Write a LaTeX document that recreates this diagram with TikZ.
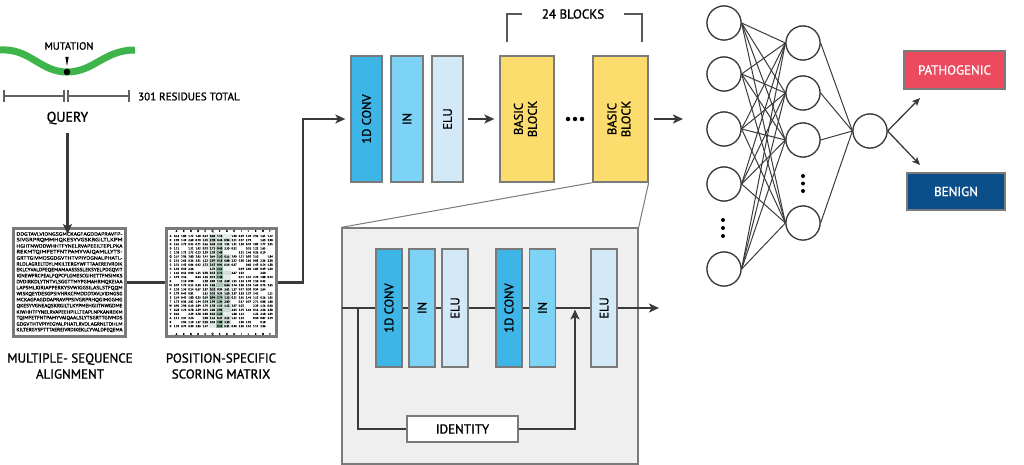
\documentclass[tikz,border=0pt]{standalone}
\usepackage{fontspec}
\setmainfont{PT Sans}[RawFeature={embolden=1.3}]
\usetikzlibrary{arrows.meta,calc}
\definecolor{convc}{HTML}{3DB5E6}
\definecolor{inc}{HTML}{7DD3F5}
\definecolor{eluc}{HTML}{D3E9F7}
\definecolor{bbc}{HTML}{FDDC6E}
\definecolor{edgec}{HTML}{7A7A7A}
\definecolor{linec}{HTML}{3A3A3A}
\definecolor{greenc}{HTML}{3DB54A}
\definecolor{panelc}{HTML}{EEEFEE}
\definecolor{pathc}{HTML}{EC4A5E}
\definecolor{benc}{HTML}{0B4F8A}
\definecolor{pssmc}{HTML}{6F9C84}
\tikzset{
  conn/.style={draw=linec, line width=2.2pt},
  arr/.style={-{Stealth[length=10pt,width=9pt,inset=2.5pt]}},
  sarr/.style={-{Stealth[length=8pt,width=7pt,inset=2pt]}},
  blk/.style={draw=edgec, line width=1.3pt, inner sep=0pt, font=\fontsize{12.5}{14}\selectfont},
  topblk/.style={blk, minimum height=126pt},
  pblk/.style={blk, minimum height=118pt, minimum width=26pt},
  neuron/.style={circle, draw=linec, line width=1.2pt, minimum size=34pt, inner sep=0pt, fill=white},
  nnline/.style={draw=linec, line width=1pt},
  bar/.style={draw=linec!80, line width=1.5pt},
  lbl/.style={font=\fontsize{13}{16}\selectfont, align=center, inner sep=0pt},
  outbox/.style={draw=edgec, line width=1.3pt, text=white, font=\fontsize{13}{15}\selectfont, inner sep=0pt},
  dot/.style={circle, fill=black, inner sep=0pt, minimum size=4.5pt}
}
\begin{document}
\begin{tikzpicture}[x=1pt,y=-1pt]
\useasboundingbox (0,0) rectangle (1024,465);

% ---------------- Query ----------------
\draw[greenc, line width=7pt] (0,50) .. controls (30,48) and (40,72) .. (67,72) .. controls (94,72) and (104,50) .. (135,50);
\fill[black] (67,72) circle (3.3pt);
\fill[black] (65.3,57) -- (68.7,57) -- (67,66) -- cycle;
\node[font=\fontsize{10.5}{12}\selectfont, inner sep=0pt] (mut) at (69,46) {MUTATION};
\coordinate (s0) at (4,96); \coordinate (s1) at (64,96);
\coordinate (s2) at (68,96); \coordinate (s3) at (129,96);
\draw[bar] (s0) -- (s1); \draw[bar] (s2) -- (s3);
\foreach \p in {s0,s1,s2,s3} \draw[bar] ($(\p)+(0,-6)$) -- ($(\p)+(0,6)$);
\node[font=\fontsize{11}{13}\selectfont, anchor=west, inner sep=0pt] (tot) at (138,96.5) {301 RESIDUES TOTAL};
\node[font=\fontsize{14}{16}\selectfont, inner sep=0pt] (query) at (67.5,118) {QUERY};

% ---------------- MSA ----------------
\node[draw=edgec, line width=3pt, fill=white, minimum width=112pt, minimum height=108pt, inner sep=0pt] (msa) at (69.5,282.5) {};
\foreach \l [count=\i] in {DDGTAVLVIDNGSGMCKAGFAGDDAPRAVFP-,SIVGRPRQMMHQKESYVGSKRGILTLKPM,HGIITNWDDWHHTFYNELRVAPEEILTEPLPKA,REKMTQIMFETFNTPAMYVAIQAMLLYTS-,GRTTGIVMDSGDGVTHTVPIYDGNALPHATL-,RLDLAGRELTDYLMKILTERGYWFTTAAEREIVRDIK,EKLCYVALDFEQEMAMAASSSSLEKSYELPDGQVIT,IGNEWFRCPEALFQPCFLGMESCGIHETTFNSIMKS,DVDIRKDLYTNTVLSGGTTMYPGMAHRMQKEIAA,LAPSMLKIRIAPPERKYSVWIGGSILASLSTFQQM,WISKQEYDESGPSIVHRKCFMDDDTAVLVIDNGSG,MCKAGFAGDDAPRAVFPSIVGRPRHQGIMGGMG,QKESYVGNEAQSKRGILTLKYPMEHGIITNWGDME,KIWHHTFYNELRVAPEEHPILLTEAPLNPKANREKM,TQIMFETFNTPAMYVAIQAALSLYTSGRTTGIVMDS,GDGVTHTVPIYEGYALPHATLRVDLAGRNLTDHLM,KILTERGYSFTTTAEREIVRDIKEKLCYVALDFEQEMA}
  \node[inner sep=0pt, font=\fontsize{5}{6}\selectfont] (m\i) at (69.5,{228+6*\i}) {\resizebox{106pt}{3.4pt}{\l}};

% ---------------- PSSM ----------------
\node[draw=edgec, line width=3pt, fill=white, minimum width=110pt, minimum height=108pt, inner sep=0pt] (pssm) at (221.5,282.5) {};
\pgfmathsetseed{7}
\foreach \r in {0,...,22}{
  \foreach \c in {4,5,6,7}{
    \pgfmathrandominteger{\sh}{15}{80}
    \ifnum\c=4 \pgfmathsetmacro{\sh}{int(\sh/4)}\fi
    \ifnum\c=5 \pgfmathsetmacro{\sh}{int(\sh*0.7)}\fi
    \ifnum\c=7 \pgfmathsetmacro{\sh}{int(\sh/2)}\fi
    \fill[pssmc!\sh] ({176.5+7.2*\c-3.6},{236+4.1*\r-2.05}) rectangle ({176.5+7.2*\c+3.6},{236+4.1*\r+2.05});
  }
}
\foreach \r in {0,...,22}{
  \foreach \c in {0,...,13}{
    \pgfmathrandominteger{\ia}{0}{2}
    \pgfmathrandominteger{\ib}{10}{99}
    \pgfmathrandominteger{\sk}{0}{7}
    \ifnum\sk>0
      \node[inner sep=0pt, font=\fontsize{2.8}{3}\selectfont, text=black] (p\r-\c) at ({176.5+7.2*\c},{236+4.1*\r}) {\ia.\ib};
    \fi
  }
}
\foreach \a [count=\i from 0] in {A,R,N,D,C,Q,E,G,H,I,L,K,M,F,P,S,T,W,Y,V,A,R,N}
  \node[inner sep=0pt, font=\fontsize{2.8}{3}\selectfont] (rl\i) at (170.5,{236+4.1*\i}) {\a};
\foreach \a [count=\i from 0] in {A,R,N,D,C,Q,E,G,H,I,L,K,M,F}{
  \node[inner sep=0pt, font=\fontsize{2.8}{3}\selectfont] (ch\i) at ({176.5+7.2*\i},231) {\a};
  \node[inner sep=0pt, font=\fontsize{2.8}{3}\selectfont] (cf\i) at ({176.5+7.2*\i},334) {\a};
}

\draw[conn] (msa.east) -- (pssm.west);
\draw[conn, arr] (query.south) ++(0,9) -- ([yshift=-7pt]query.south |- msa.north);
\node[lbl] (msal) at (70,366) {MULTIPLE- SEQUENCE\\ALIGNMENT};
\node[lbl] (pssml) at (221,366) {POSITION-SPECIFIC\\SCORING MATRIX};

% ---------------- top blocks ----------------
\node[topblk, fill=convc, minimum width=31pt] (c1) at (366.5,119) {\rotatebox{90}{1D CONV}};
\node[topblk, fill=inc, minimum width=32pt] (in1) at (407,119) {\rotatebox{90}{IN}};
\node[topblk, fill=eluc, minimum width=31pt] (elu1) at (447.5,119) {\rotatebox{90}{ELU}};
\node[topblk, fill=bbc, minimum width=54pt] (bb1) at (527,119) {\rotatebox{90}{\begin{tabular}{@{}c@{}}BASIC\\BLOCK\end{tabular}}};
\node[topblk, fill=bbc, minimum width=55pt] (bb2) at (620.5,119) {\rotatebox{90}{\begin{tabular}{@{}c@{}}BASIC\\BLOCK\end{tabular}}};
\foreach \x [count=\i] in {568,575,582} \node[dot] (bd\i) at (\x,119) {};

\coordinate (up) at (303,119);
\draw[conn, arr] (pssm.east) -| (up) -- ([xshift=-5pt]c1.west);
\draw[conn, arr] ([xshift=4pt]elu1.east) -- ([xshift=-5pt]bb1.west);
\coordinate (nnin) at (683,119);
\draw[conn, arr] ([xshift=5pt]bb2.east) -- (nnin);

\coordinate (brl) at (507,42); \coordinate (brr) at (642,42);
\draw[draw=linec!85, line width=1.8pt] (brl) |- (522,14);
\draw[draw=linec!85, line width=1.8pt] (624,14) -| (brr);
\node[font=\fontsize{13}{15}\selectfont, inner sep=0pt] (nb) at (573,14) {24 BLOCKS};

% ---------------- expanded basic block ----------------
\node[draw=edgec, fill=panelc, line width=1.3pt, minimum width=296pt, minimum height=236pt, inner sep=0pt] (panel) at (490,346) {};
\draw[edgec, line width=1pt] (bb2.south west) -- (panel.north west);
\draw[edgec, line width=1pt] (bb2.south east) -- (panel.north east);

\coordinate (pl) at (342,308);
\coordinate (pr) at (659,308);
\draw[conn, arr] (pl) -- (pr);
\coordinate (br) at (358,308);
\coordinate (mg) at (575,309.5);
\node[draw=edgec, line width=1.3pt, fill=white, minimum width=111pt, minimum height=26pt, inner sep=0pt, font=\fontsize{13}{15}\selectfont] (idn) at (462.5,429) {IDENTITY};
\draw[conn] (br) |- (idn.west);
\draw[conn, arr] (idn.east) -| (mg);

\node[pblk, fill=convc] (pc1) at (389,308) {\rotatebox{90}{1D CONV}};
\node[pblk, fill=inc] (pin1) at (422,308) {\rotatebox{90}{IN}};
\node[pblk, fill=eluc] (pelu1) at (455,308) {\rotatebox{90}{ELU}};
\node[pblk, fill=convc] (pc2) at (509,308) {\rotatebox{90}{1D CONV}};
\node[pblk, fill=inc] (pin2) at (542.5,308) {\rotatebox{90}{IN}};
\node[pblk, fill=eluc] (pelu2) at (604,308) {\rotatebox{90}{ELU}};

% ---------------- neural net ----------------
\foreach \y [count=\i] in {23,74,129,184,269} \node[neuron] (a\i) at (724,\y) {};
\foreach \y [count=\i] in {43,93,140,223} \node[neuron] (b\i) at (803,\y) {};
\node[neuron] (o) at (870,131) {};
\foreach \i in {1,...,5}
  \foreach \j in {1,...,4}
    \draw[nnline] (a\i.east) -- (b\j.west);
\foreach \j in {1,...,4}
  \draw[nnline] (b\j.east) -- (o.west);
\foreach \i in {1,...,5} \node[neuron] (a\i r) at (a\i) {};
\foreach \j in {1,...,4} \node[neuron] (b\j r) at (b\j) {};
\node[neuron] (or) at (o) {};
\foreach \y [count=\i] in {220,228,236} \node[dot, minimum size=4pt] (ad\i) at (723,\y) {};
\foreach \y [count=\i] in {176,183.5,191} \node[dot, minimum size=4pt] (bd\i n) at (803,\y) {};

\node[outbox, fill=pathc, minimum width=101pt, minimum height=38pt] (path) at (954.5,70) {PATHOGENIC};
\node[outbox, fill=benc, minimum width=98pt, minimum height=37pt] (ben) at (956,191.5) {BENIGN};
\coordinate (t1) at (920,98);
\coordinate (t2) at (920,165);
\draw[nnline, line width=1.3pt, sarr] (or.east) -- (t1);
\draw[nnline, line width=1.3pt, sarr] (or.east) -- (t2);
\end{tikzpicture}
\end{document}
